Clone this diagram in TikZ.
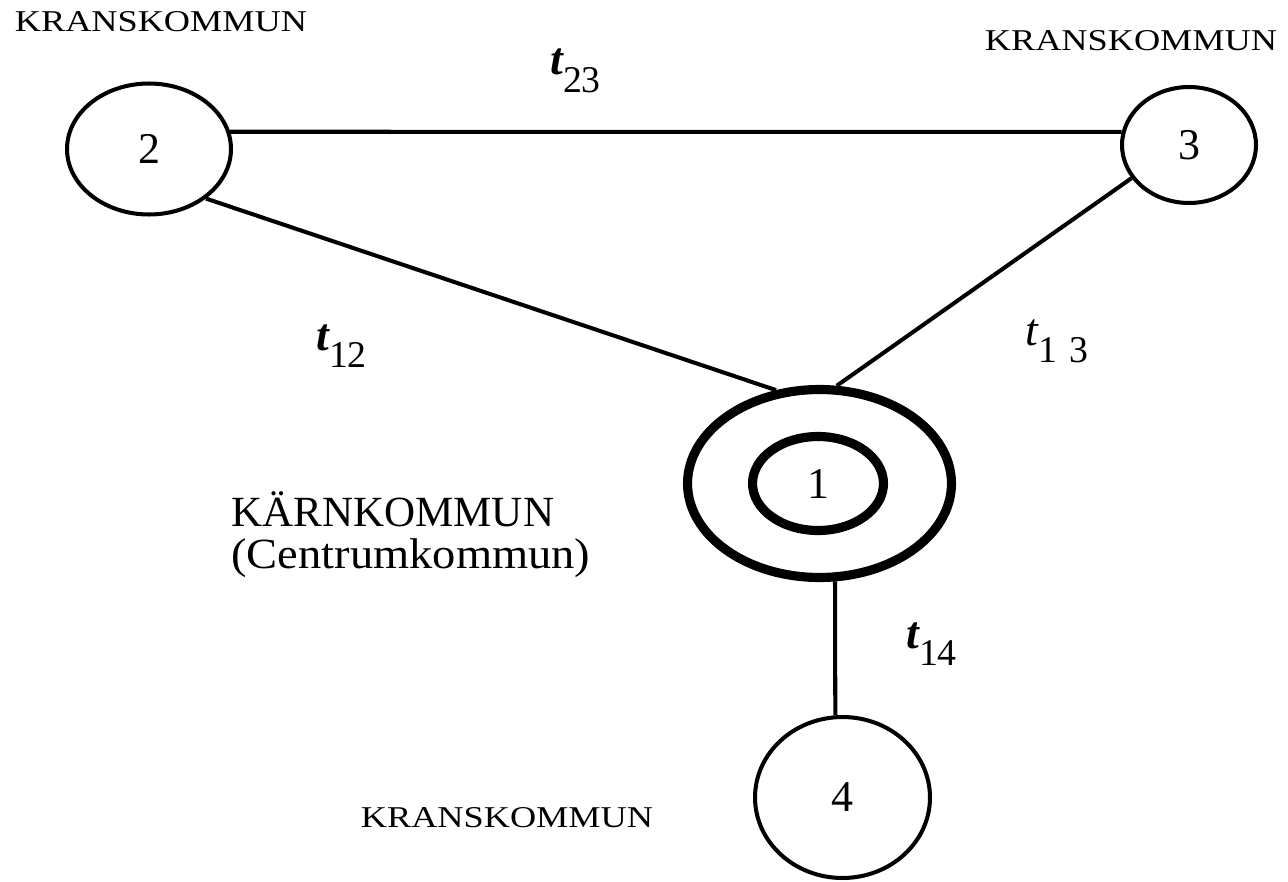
\documentclass[tikz,border=0pt]{standalone}
\usepackage{fontspec}
\usepackage{graphicx}
\setmainfont{Liberation Serif}
\usetikzlibrary{shapes.geometric, positioning}
\tikzset{
  kommun/.style={ellipse, draw=black, line width=2.3pt, inner sep=0pt, font=\fontsize{25}{25}\selectfont},
  karna/.style={ellipse, draw=black, line width=5.2pt, inner sep=0pt, font=\fontsize{25}{25}\selectfont},
  link/.style={draw=black, line width=2.3pt},
  rubrik/.style={font=\fontsize{17.2}{17.2}\selectfont, inner sep=0pt},
  tlab/.style={anchor=base west, inner sep=0pt},
}
\newcommand{\tind}[2][\bfseries]{{\fontsize{26}{26}\selectfont#1\itshape t}\raisebox{-10pt}{\fontsize{21.5}{21.5}\selectfont #2}}

\begin{document}
\begin{tikzpicture}[x=0.02cm, y=-0.02cm]
\useasboundingbox (0,0) rectangle (1288,882);
\node[kommun, minimum width=3.28cm, minimum height=2.62cm] (n2) at (149,149) {2};
\node[kommun, minimum width=2.68cm, minimum height=2.32cm] (n3) at (1189,145) {3};
\node[karna, minimum width=5.28cm, minimum height=3.76cm] (n1) at (819.5,483.5) {};
\node[karna, minimum width=2.62cm, minimum height=1.88cm] (n1i) at (818,483.5) {1};
\node[kommun, minimum width=3.5cm, minimum height=3.22cm] (n4) at (842.5,797.5) {4};

\node[rubrik] (k2) at (161,22) {\scalebox{1.2}[1]{KRANSKOMMUN}};
\node[rubrik] (k3) at (1131,41) {\scalebox{1.2}[1]{KRANSKOMMUN}};
\node[rubrik] (k4) at (507,818) {\scalebox{1.2}[1]{KRANSKOMMUN}};
\node[anchor=west, align=left, inner sep=0pt, font=\fontsize{24.5}{24}\selectfont] (karn) at (231,535) {KÄRNKOMMUN\\\scalebox{1.08}[1]{(Centrumkommun)}};

\node[tlab] (t23) at (550,75) {\tind{23}};
\node[tlab] (t12) at (316,350) {\tind{12}};
\node[tlab] (t13) at (1025,345) {\tind[\mdseries]{1\,\,3}};
\node[tlab] (t14) at (906,648) {\tind{14}};

\draw[link] (n2.12) -- (n3.169);
\draw[link] (n2.-41) -- (n1.115);
\draw[link] (n3.210) -- (n1.80);
\draw[link] (n1.-81) -- (n4.95);
\end{tikzpicture}
\end{document}
